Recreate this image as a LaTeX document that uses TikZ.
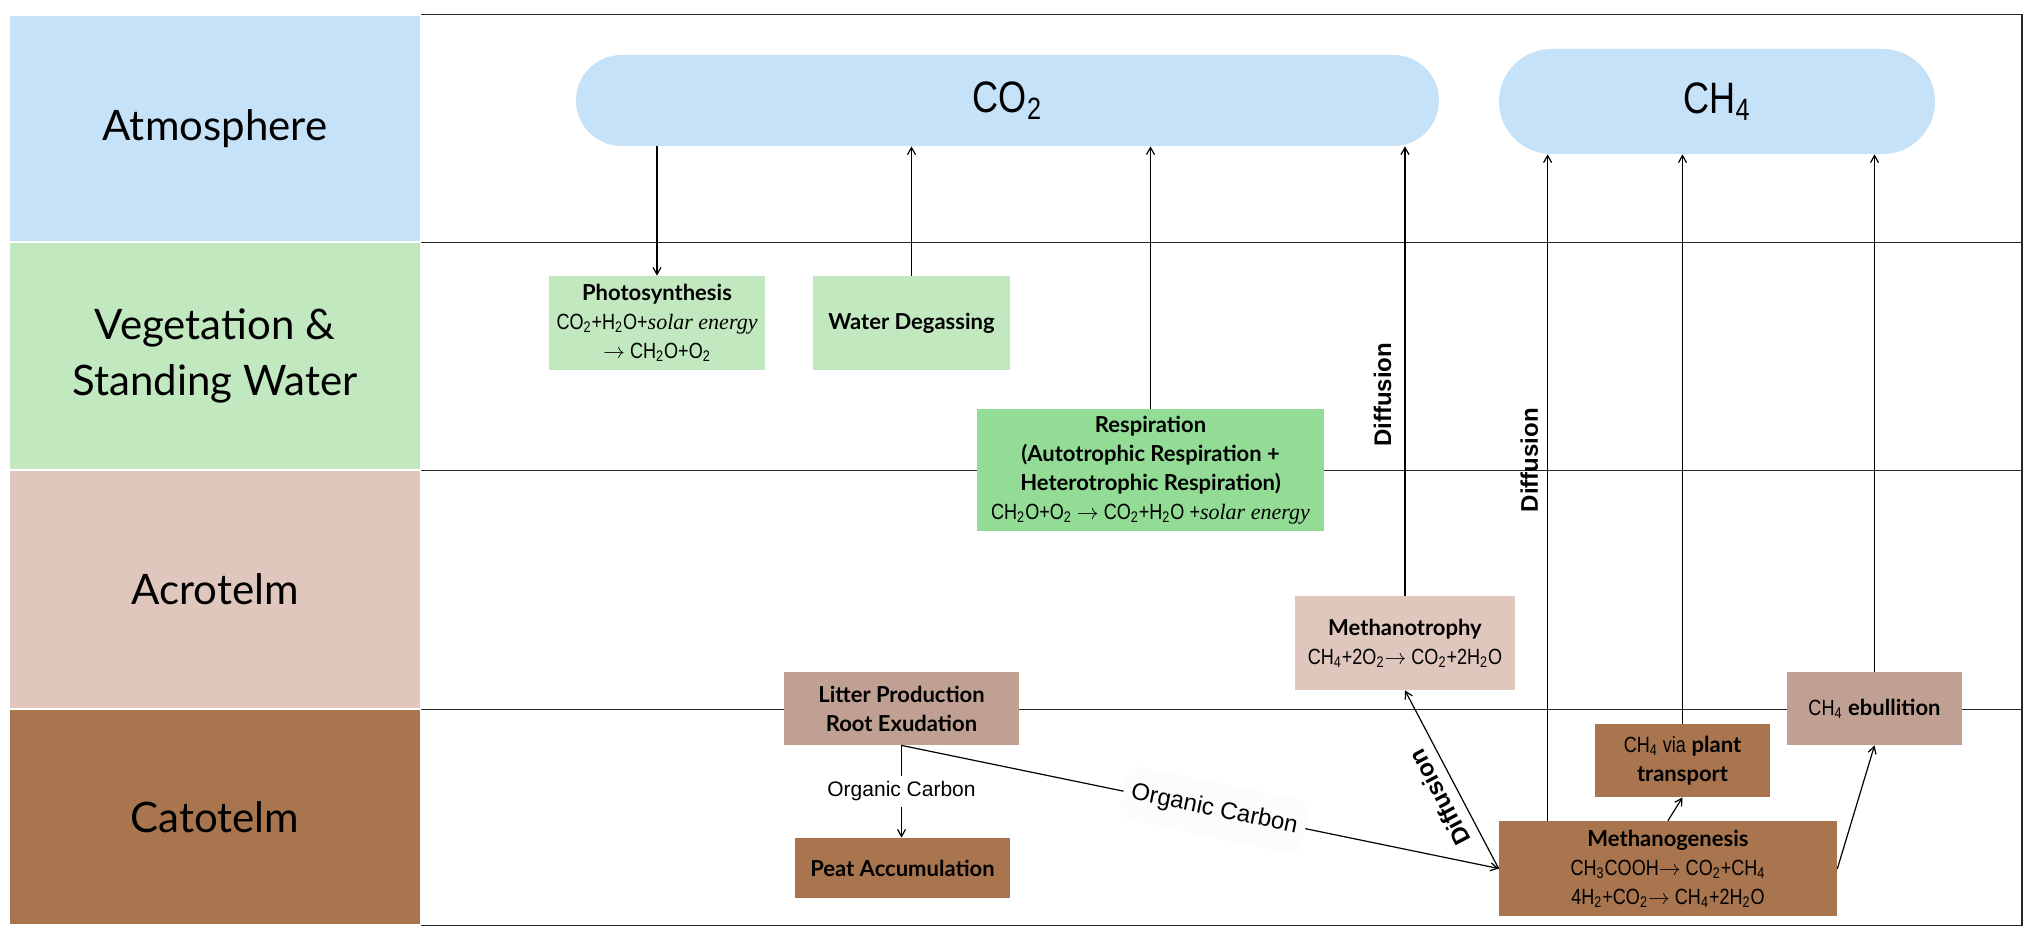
\documentclass[tikz,border=0pt]{standalone}
\usepackage{fontspec}
\setmainfont{Lato}
\newfontfamily\narrowfont[FakeStretch=0.82]{Liberation Sans}
\newfontfamily\arialfont{Liberation Sans}
\newfontfamily\timesfont{Liberation Serif}
\usetikzlibrary{arrows.meta}

\newcommand{\sbs}[1]{\textsubscript{#1}}
\newcommand{\chem}[1]{{\narrowfont #1}}
\newcommand{\solar}{{\timesfont\itshape solar energy}}
\newcommand{\yields}{$\rightarrow$}

\begin{document}
\begin{tikzpicture}
		[x=0.5pt,y=-0.5pt,line cap=round,
		%Styles
		band/.style={draw=white,line width=0.6pt,minimum width=206pt,align=center,font=\fontsize{21}{28}\selectfont},
		frame/.style={black!85,line width=0.65pt},
		pill/.style={fill=atmblue,font=\narrowfont\fontsize{22}{24}\selectfont},
		proc/.style={inner sep=0pt,align=center,font=\fontsize{11}{14.5}\selectfont},
		flow/.style={-{Straight Barb[length=3.5pt,width=4pt]},line width=0.6pt},
		difftext/.style={font=\arialfont\bfseries\fontsize{12}{14}\selectfont}
		]
		
		%Colors
		\definecolor{atmblue}{HTML}{C6E2F9}
		\definecolor{veggreen}{HTML}{C2E8C0}
		\definecolor{respgreen}{HTML}{92DC96}
		\definecolor{acrobeige}{HTML}{DFC7BD}
		\definecolor{catobrown}{HTML}{A8754F}
		\definecolor{litterbrown}{HTML}{BFA092}
		
		\useasboundingbox (0,0) rectangle (2034,936);
		
		%Layers
		\node[band,fill=atmblue,minimum height=113.5pt] (atm) at (215,128.5) {Atmosphere};
		\node[band,fill=veggreen,minimum height=114pt] (veg) at (215,356) {Vegetation \&\\Standing Water};
		\node[band,fill=acrobeige,minimum height=119.5pt] (acro) at (215,589.5) {Acrotelm};
		\node[band,fill=catobrown,minimum height=108pt] (cato) at (215,817) {Catotelm};
		
		\coordinate (re) at (2022,0);
		\draw[frame] (atm.north east) -- (atm.north east -| re) -- (cato.south east -| re) -- (cato.south east);
		\foreach \b in {atm,veg,acro}
			\draw[frame] (\b.south east) -- (\b.south east -| re);
		
		%Gases
		\node[pill,minimum width=431.5pt,minimum height=45.5pt,rounded corners=22.7pt] (co2) at (1007.5,100.5) {CO\sbs{2}};
		\node[pill,minimum width=218pt,minimum height=52.5pt,rounded corners=26.2pt] (ch4) at (1717,101.5) {CH\sbs{4}};
		
		%Processes
		\node[proc,fill=veggreen,minimum width=108pt,minimum height=47pt] (photo) at (657,323)
			{\textbf{Photosynthesis}\\\chem{CO\sbs2+H\sbs2O+}\solar\\\chem{\yields{} CH\sbs2O+O\sbs2}};
		\node[proc,fill=veggreen,minimum width=98.5pt,minimum height=47pt] (degas) at (911.5,323) {\textbf{Water Degassing}};
		\node[proc,fill=respgreen,minimum width=173.5pt,minimum height=61pt] (resp) at (1150.5,470)
			{\textbf{Respiration}\\\textbf{(Autotrophic Respiration +}\\\textbf{Heterotrophic Respiration)}\\\chem{CH\sbs2O+O\sbs2 \yields{} CO\sbs2+H\sbs2O +}\solar};
		\node[proc,fill=acrobeige,minimum width=110pt,minimum height=47pt] (mtro) at (1405,643)
			{\textbf{Methanotrophy}\\\chem{CH\sbs4+2O\sbs2\yields{} CO\sbs2+2H\sbs2O}};
		\node[proc,fill=litterbrown,minimum width=117.5pt,minimum height=36.5pt] (litter) at (901.5,708.5)
			{\textbf{Litter Production}\\\textbf{Root Exudation}};
		\node[proc,fill=catobrown,minimum width=107.5pt,minimum height=30pt] (peat) at (902.5,868) {\textbf{Peat Accumulation}};
		\node[proc,fill=catobrown,minimum width=87.5pt,minimum height=36.5pt] (plant) at (1682.5,760.5)
			{\chem{CH\sbs4 via} \textbf{plant}\\\textbf{transport}};
		\node[proc,fill=litterbrown,minimum width=87.5pt,minimum height=36.5pt] (ebul) at (1874.5,708.5)
			{\chem{CH\sbs4} \textbf{ebullition}};
		\node[proc,fill=catobrown,minimum width=169pt,minimum height=47.5pt] (mgen) at (1668,868.5)
			{\textbf{Methanogenesis}\\\chem{CH\sbs3COOH\yields{} CO\sbs2+CH\sbs4}\\\chem{4H\sbs2+CO\sbs2\yields{} CH\sbs4+2H\sbs2O}};
		
		%Fluxes
		\draw[flow] (co2.south -| photo.north) -- (photo.north);
		\draw[flow] (degas.north) -- (degas.north |- co2.south);
		\draw[flow] (resp.north) -- (resp.north |- co2.south);
		\draw[flow] (mtro.north) -- node[difftext,pos=0.447,rotate=90,anchor=south,inner sep=6.5pt] {Diffusion} (mtro.north |- co2.south);
		
		\coordinate (mgtop) at ([xshift=24.5pt]mgen.north west);
		\draw[flow] (mgtop) -- node[difftext,pos=0.541,rotate=90,anchor=south,inner sep=4.5pt] {Diffusion} (mgtop |- ch4.south);
		\draw[flow] (plant.north) -- (plant.north |- ch4.south);
		\draw[flow] (ebul.north) -- (ebul.north |- ch4.south);
		
		\draw[flow] (litter.south) -- node[fill=white,inner sep=3pt,font=\arialfont\fontsize{10.5}{12}\selectfont] {Organic Carbon} (litter.south |- peat.north);
		\draw[flow] (litter.south) -- node[pos=0.524,sloped,fill=black!1,rounded corners=6pt,inner xsep=4pt,inner ysep=8pt,font=\arialfont\fontsize{12}{14}\selectfont] {Organic Carbon} (mgen.west);
		\draw[flow] (mgen.west) -- node[difftext,pos=0.45,sloped,allow upside down,anchor=south,inner sep=5pt] {Diffusion} (mtro.south);
		\draw[flow] (mgen.north) -- (plant.south);
		\draw[flow] (mgen.east) -- (ebul.south);
	\end{tikzpicture}
\end{document}
